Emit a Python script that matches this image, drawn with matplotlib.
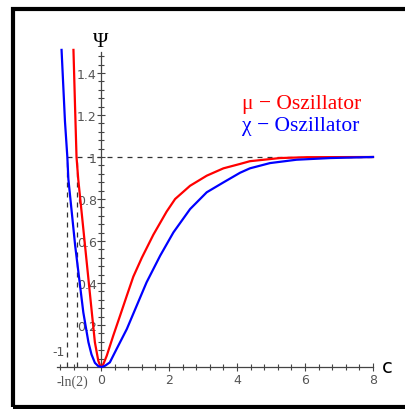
"""Two potential curves (mu and chi oscillator) in a Maple-like framed plot."""

import numpy as np
import matplotlib
matplotlib.use("Agg")
import matplotlib.pyplot as plt
from matplotlib.patches import Rectangle
from matplotlib.ticker import FixedLocator

# values
mu_c = [-0.81, -0.765, -0.72, -0.67, -0.57, -0.47, -0.37, -0.27, -0.18, -0.08, -0.03, 0.02,
        0.07, 0.17, 0.36, 0.56, 0.76, 0.95, 1.20, 1.54, 1.93, 2.18, 2.62, 3.11, 3.60,
        4.09, 4.38, 5.26, 6.05, 8.0]
mu_psi = [1.51, 1.25, 1.0, 0.895, 0.737, 0.578, 0.419, 0.26, 0.118, 0.03, 0.008, 0.0,
          0.014, 0.054, 0.149, 0.244, 0.34, 0.43, 0.52, 0.63, 0.74, 0.80, 0.863, 0.911, 0.946,
          0.967, 0.980, 0.995, 0.999, 1.0]

chi_c = [-1.16, -1.06, -0.99, -0.96, -0.86, -0.76, -0.64, -0.52, -0.37, -0.28, -0.18, -0.08, 0.02,
         0.12, 0.26, 0.46, 0.76, 1.05, 1.34, 1.74, 2.13, 2.62, 3.11, 3.60, 4.09, 4.38,
         4.97, 5.75, 6.74, 8.0]
chi_psi = [1.51, 1.17, 1.0, 0.895, 0.737, 0.578, 0.419, 0.26, 0.118, 0.06, 0.02, 0.004, 0.0,
           0.006, 0.022, 0.086, 0.181, 0.292, 0.403, 0.53, 0.641, 0.752, 0.832, 0.879, 0.925, 0.946,
           0.971, 0.987, 0.995, 1.0]

asymptote = 1.0
marks_c = [-1.0, -np.log(2)]
y_ticks = [0.2, 0.4, 0.6, 0.8, 1.0, 1.2, 1.4]
y_labels = ["0.2", "0.4", "0.6", "0.8", "1", "1.2", "1.4"]
x_ticks = [0, 2, 4, 6, 8]
x_labels = ["0", "2", "4", "6", "8"]

W, H = 405, 410
fig = plt.figure(figsize=(W / 100, H / 100), dpi=100)
ax = fig.add_axes([0, 0, 1, 1])
# 34 px per unit in c, 210 px per unit in psi, origin at (101, 368)
ax.set_xlim(-101 / 34, (W - 101) / 34)
ax.set_ylim((368 - H) / 210, 368 / 210)

ax.plot(mu_c, mu_psi, color="#ff0000", lw=1.6, solid_joinstyle="round", zorder=3)
ax.plot(chi_c, chi_psi, color="#0000ff", lw=1.6, solid_joinstyle="round", zorder=3)

dash = dict(color="#333333", lw=0.9, dashes=(4, 4), zorder=2)
ax.plot([marks_c[0], 8], [asymptote, asymptote], **dash)
for m in marks_c:
    ax.plot([m, m], [0, asymptote], **dash)

for s in ["top", "right"]:
    ax.spines[s].set_visible(False)
ax.spines["left"].set_position(("data", 0))
ax.spines["bottom"].set_position(("data", 0))
ax.spines["left"].set_bounds(0, 1.5)
ax.spines["bottom"].set_bounds(-1.3, 8)
for s in ["left", "bottom"]:
    ax.spines[s].set_color("#444444")
    ax.spines[s].set_linewidth(0.9)

ax.xaxis.set_major_locator(FixedLocator(x_ticks))
ax.set_xticklabels(x_labels)
ax.xaxis.set_minor_locator(FixedLocator(np.arange(-1.2, 8.01, 0.4)))
ax.yaxis.set_major_locator(FixedLocator(y_ticks))
ax.set_yticklabels(y_labels)
ax.yaxis.set_minor_locator(FixedLocator(np.arange(0.04, 1.5, 0.04)))
ax.tick_params(which="both", direction="inout", color="#444444", width=0.8,
               labelsize=9, labelcolor="#555555", pad=1)
ax.tick_params(which="major", length=6)
ax.tick_params(which="minor", length=4)
ax.tick_params(axis="y", pad=0)

ax.text(-1.235, 0.076, "-1", fontsize=9, color="#555555", ha="center", va="center")
ax.text(-0.84, -0.035, "-ln(2)", fontsize=10, color="#555555", ha="center", va="top",
        family="Liberation Serif")
ax.text(0.0, 1.505, "\u03a8", fontsize=15, ha="center", va="bottom", family="Liberation Serif")
ax.text(8.25, 0.0, "c", fontsize=14, ha="left", va="center")

ax.text(4.15, 1.257, "\u03bc \u2212 Oszillator", color="#ff0000", fontsize=15.5,
        ha="left", va="center", family="Liberation Serif")
ax.text(4.15, 1.148, "\u03c7 \u2212 Oszillator", color="#0000ff", fontsize=15.5,
        ha="left", va="center", family="Liberation Serif")

# outer frame, right edge falls outside the image
fig.patches.append(Rectangle((13 / W, 2 / H), 1.2, 398 / H, transform=fig.transFigure,
                             fill=False, edgecolor="black", lw=3, zorder=10))

fig.savefig("out.png", dpi=100)
